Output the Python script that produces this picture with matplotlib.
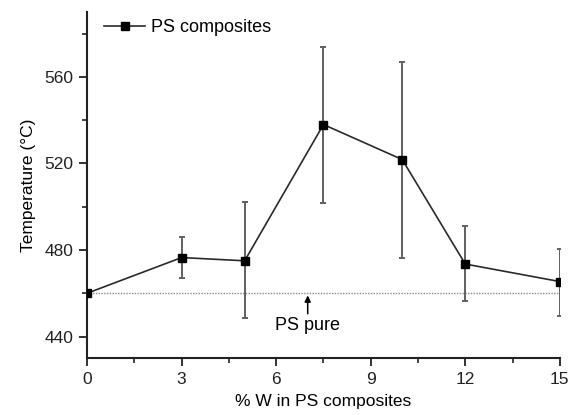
import matplotlib
matplotlib.use("Agg")
import matplotlib.pyplot as plt
from matplotlib.ticker import MultipleLocator

# Data
w_pct = [0, 3, 5, 7.5, 10, 12, 15]
temp = [460, 476.5, 475, 538, 521.8, 473.5, 465.4]
err_low = [0, 9.5, 26.5, 36.5, 45.3, 17, 15.7]
err_high = [0, 9.6, 27.3, 36, 45.2, 17.5, 15.1]
ps_pure = 460

plt.rcParams["font.family"] = ["Liberation Sans", "DejaVu Sans"]

fig = plt.figure(figsize=(5.73, 4.15), dpi=100)
ax = fig.add_axes([0.152, 0.137, 0.825, 0.834])

ax.axhline(ps_pure, color="#888888", linestyle=(0, (1, 1)), linewidth=1.0, zorder=1)

ax.errorbar(w_pct, temp, yerr=[err_low, err_high], fmt="none",
            ecolor="#606060", elinewidth=1.4, capsize=2.5, capthick=1.4, zorder=2)
ax.plot(w_pct, temp, color="#2a2a2a", linewidth=1.2, marker="s",
        markersize=6, markerfacecolor="black", markeredgecolor="black",
        label="PS composites", zorder=3)

# arrow pointing at the PS pure baseline
ax.annotate("", xy=(7, ps_pure - 1.0), xytext=(7, 450.5),
            arrowprops=dict(arrowstyle="-|>", color="black", lw=1.1,
                            mutation_scale=9, shrinkA=0, shrinkB=0))
ax.text(7, 445, "PS pure", ha="center", va="center", fontsize=13)

ax.set_xlim(0, 15)
ax.set_ylim(430, 590)
ax.xaxis.set_major_locator(MultipleLocator(3))
ax.xaxis.set_minor_locator(MultipleLocator(1.5))
ax.yaxis.set_minor_locator(MultipleLocator(20))
ax.set_yticks([440, 480, 520, 560])

for side in ("top", "right"):
    ax.spines[side].set_visible(False)
for side in ("left", "bottom"):
    ax.spines[side].set_linewidth(1.5)
    ax.spines[side].set_color("#222222")

ax.tick_params(which="major", direction="out", length=6, width=1.3,
               labelsize=12.5, colors="#222222", pad=4)
ax.tick_params(which="minor", direction="out", length=3.5, width=1.2,
               colors="#222222")

ax.set_xlabel("% W in PS composites", fontsize=12.5, labelpad=5)
ax.set_ylabel("Temperature (°C)", fontsize=12.5, labelpad=6)

ax.legend(loc="upper left", frameon=False, fontsize=13, handlelength=2.3,
          handletextpad=0.3, borderaxespad=0.0, bbox_to_anchor=(0.02, 1.0))

fig.savefig("out.png", dpi=100)
